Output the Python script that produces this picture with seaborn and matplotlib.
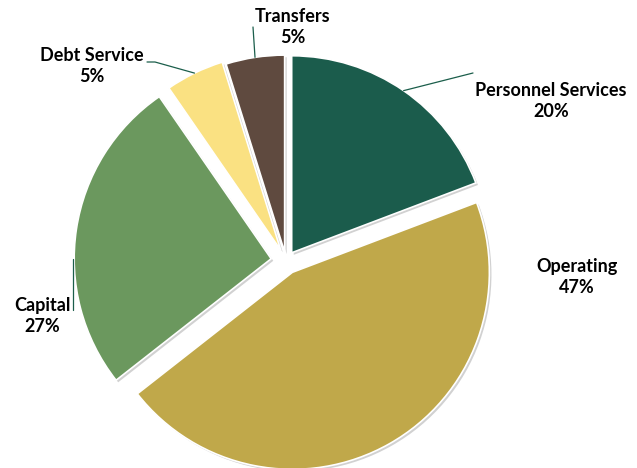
import numpy as np
import matplotlib
matplotlib.use("Agg")
import matplotlib.pyplot as plt
import matplotlib.patheffects as pe
import seaborn as sns

# Budget share by category (percent)
categories = ["Personnel Services", "Operating", "Capital", "Debt Service", "Transfers"]
shares = [20, 47, 27, 5, 5]
hex_colors = ["#1B5C4C", "#C0A84A", "#6B985E", "#FAE182", "#5F4A3F"]

sns.set_theme(style="white")
plt.rcParams["font.family"] = ["Lato", "DejaVu Sans"]

W, H = 637, 468
fig = plt.figure(figsize=(W / 100, H / 100), dpi=100)
ax = fig.add_axes([0, 0, 1, 1])

center = (286, H - 261)
radius = 197
# wedge offsets in axis (pixel) units
explode = [10, 13, 15, 12, 9]

palette = sns.color_palette(hex_colors)
wedges, _ = ax.pie(
    shares,
    colors=palette,
    startangle=90,
    counterclock=False,
    explode=explode,
    center=center,
    radius=radius,
    frame=True,
    wedgeprops=dict(edgecolor="white", linewidth=1.2),
)
ax.set_xlim(0, W)
ax.set_ylim(0, H)
ax.set_aspect("equal")
ax.axis("off")

for w in wedges:
    w.set_path_effects([
        pe.SimplePatchShadow(offset=(1.5, -1.5), shadow_rgbFace="#9a9a9a", alpha=0.45),
        pe.Normal(),
    ])

def arc_point(wedge, angle_deg, pad=0):
    cx, cy = wedge.center
    r = wedge.r + pad
    a = np.deg2rad(angle_deg)
    return cx + r * np.cos(a), cy + r * np.sin(a)

def mid_angle(wedge):
    return 0.5 * (wedge.theta1 + wedge.theta2)

line_color = "#1B5E4B"
# label block centres (pixels, y from top)
label_pos = {
    "Personnel Services": (551, 101),
    "Operating": (577, 277),
    "Capital": (42, 316),
    "Debt Service": (92, 66),
    "Transfers": (293, 27),
}

for w, name, val in zip(wedges, categories, shares):
    x, y = label_pos[name]
    ax.text(x, H - y, f"{name}\n{val}%", ha="center", va="center",
            fontsize=13, fontweight="bold", color="black", linespacing=1.25)

# leader lines from each wedge rim to its label
w_p, w_o, w_c, w_d, w_t = wedges
sx, sy = arc_point(w_p, mid_angle(w_p))
ax.plot([sx, 473], [sy, H - 73], color=line_color, lw=0.9)

sx, sy = arc_point(w_t, mid_angle(w_t))
ax.plot([sx, 253], [sy, H - 27], color=line_color, lw=0.9)

sx, sy = arc_point(w_d, mid_angle(w_d))
ax.plot([sx, 155, 147], [sy, H - 62, H - 62], color=line_color, lw=0.9)

sx, sy = arc_point(w_c, 180, pad=1)
ax.plot([sx, sx], [sy, H - 310], color=line_color, lw=0.9)

fig.savefig("out.png", dpi=100, facecolor="white")
